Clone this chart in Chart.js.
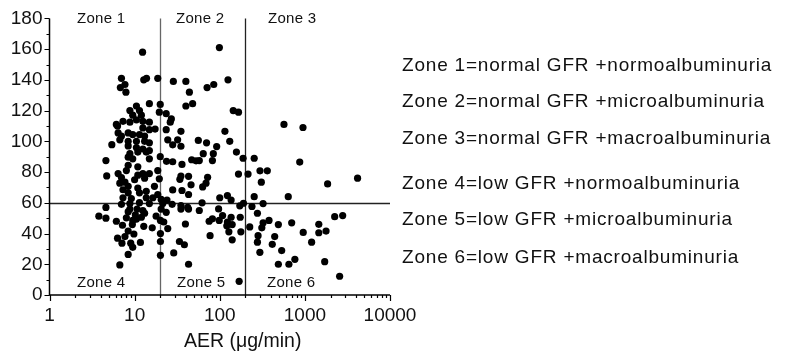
<!DOCTYPE html>
<html>
<head>
<meta charset="utf-8">
<script src="https://cdn.jsdelivr.net/npm/chart.js@4"></script>
<style>
body { margin: 0; background: #fff; }
#wrap { position: relative; width: 788px; height: 358px; font-family: "Liberation Sans", Arial, sans-serif; color: #111; }
#wrap div { position: absolute; white-space: nowrap; line-height: 1; }
.zone { font-size: 15px; letter-spacing: 0.3px; }
.key { left: 402px; font-size: 19px; letter-spacing: 0.8px; }
#xtitle { font-size: 19.5px; }
</style>
</head>
<body>
<div id="wrap">
  <canvas id="myChart" width="788" height="358"></canvas>
  <div class="zone" style="left:77px;top:10px">Zone 1</div>
  <div class="zone" style="left:176px;top:10px">Zone 2</div>
  <div class="zone" style="left:268px;top:10px">Zone 3</div>
  <div class="zone" style="left:77px;top:274px">Zone 4</div>
  <div class="zone" style="left:177px;top:274px">Zone 5</div>
  <div class="zone" style="left:267px;top:274px">Zone 6</div>
  <div id="xtitle" style="left:184px;top:331px">AER (μg/min)</div>
  <div class="key" style="top:55px">Zone 1=normal GFR +normoalbuminuria</div>
  <div class="key" style="top:91px">Zone 2=normal GFR +microalbuminuria</div>
  <div class="key" style="top:128px">Zone 3=normal GFR +macroalbuminuria</div>
  <div class="key" style="top:173px">Zone 4=low GFR +normoalbuminuria</div>
  <div class="key" style="top:209px">Zone 5=low GFR +microalbuminuria</div>
  <div class="key" style="top:247px">Zone 6=low GFR +macroalbuminuria</div>
</div>
<script>
// each point is [AER (ug/min), GFR], grouped by zone
var zone1 = [[12.4,158],[7.0,141],[7.7,137],[6.8,135],[7.9,132],[12.8,140],[13.8,141],[18.7,141],
  [10.5,123],[14.9,124.5],[8.8,120],[9.5,117],[11.4,120],[12,117],[19.5,119],[7.3,113],[6.1,111],
  [8.8,112.5],[10.5,114],[12.5,113],[14.9,112.5],[6.3,110],[17.4,108],[14.9,107.6],[12.5,108.7],
  [6.4,105.5],[7.0,103.4],[8.4,105.5],[9.5,104.4],[11.4,104.4],[13.1,103.4],[6.7,101],[8.4,100],
  [10.5,100],[13.1,100],[14.9,99],[5.4,97.8],[8.4,97],[10.5,96],[12.5,95],[14.9,94],[8.8,92],
  [10.9,93],[13.7,93],[8.4,89.7],[9.5,88.6],[14.9,88.6],[4.6,87.5],[8.4,84.4],[10.9,83.4],[18.7,81],
  [8.0,81],[4.7,77.5],[6.4,79],[7.0,76.4],[10.9,78],[12.5,79],[14.9,79],[13.1,76],[19.5,75.6],
  [7.7,73.4],[10,75],[6.7,72.8],[17.1,70.7],[10.9,69.6],[8.4,70.7],[7.3,68.5],[13.7,67.5],[8.4,66.5],
  [11.4,66.5],[18.7,65.4],[7.3,63.3],[9.15,62.8],[13.7,63.3],[16.4,63.3],[11.4,60.1]];
var zone2 = [[28.5,139],[40,139],[44,132],[71,135],[85,137],[125,140],[99,161],[40,123],[48,124.5],
  [144,120],[166,119],[20,124],[23.5,118],[27,114.6],[23.5,107.6],[26.2,112.5],[35,106.5],[32,101],
  [28,97.7],[35,96.8],[24.5,101],[56,100.6],[46.8,88],[52.7,87.3],[36,85],[35,77.4],[43,77.2],
  [34,75.3],[46,71.7],[36,68],[43,65.4],[24,61.8],[20,90],[23.7,87],[28,86.7],[28,68.4],[20.5,62.2],
  [115,106.5],[70,99],[131,100],[92,96.6],[157,93],[64,92],[84,92],[188,89],[82,87.5],[57.5,87.5],
  [166,78.7],[72,76.6],[69,72.8],[63,70.3],[100,63.3],[123,64.7],[136,61.8],[62,60]];
var zone3 = [[568,111],[950,109],[254,89],[870,86.5],[215,78.7],[297,80.8],[362,80.8],[308,73.4],
  [1850,72.3],[4160,76],[254,64],[638,64]];
var zone4 = [[7.0,59],[8.8,59.5],[14.9,59.5],[4.6,57],[3.8,51.3],[4.6,50],[6.1,48],[7.2,45.4],
  [8.0,50.2],[8.4,54.2],[9.4,45.8],[8.4,41.6],[6.3,37],[7.7,38],[9.8,39.7],[7.1,33.7],[9.0,33.7],
  [11.7,34.2],[9.5,31],[8.4,26.4],[6.7,19.6],[12.8,44.7],[16.1,43.7],[17.9,51.3],[10.2,52.1],
  [10.5,49.4],[9.5,48.5],[10.7,55.9],[12.5,54.9],[13.1,53.2],[8.8,55.9],[12,50.6]];
var zone5 = [[21.4,59.5],[27.6,59],[35,58.2],[42,57],[57.5,55],[97,56],[172,58],[190,59.7],
  [20.5,55.9],[23.5,53.8],[20.1,48.5],[22,47.5],[20.1,40],[20.1,34.8],[20.1,25.8],[28.8,27.4],
  [24.5,43.2],[33.6,34.8],[38.4,32.7],[35,55.9],[43,55.9],[39.5,46.2],[43,20],[75,48],[82,49.6],
  [108,51.7],[98.6,48.5],[136,50.6],[123,47.5],[140,45.8],[174,50.6],[128,41.1],[121,45],[77,38.6],
  [140,35.9],[177,41.1],[169,8.9]];
var zone6 = [[239,57.6],[323,59.5],[277,53.2],[225,44.3],[312,43.7],[323,47],[379,48.5],[488,45.8],
  [700,47],[282,38.6],[442,38],[277,34.4],[414,33],[296,27.8],[534,28.9],[488,20],[649,20],[763,23.2],
  [956,40.7],[1200,34.4],[1457,46],[1457,40.5],[1773,41.6],[2240,51],[2780,51.7],[1710,21.7],[2560,12.2]];

var xDecades = [1, 10, 100, 1000, 10000]; //labelled x ticks
var aerCuts = [20, 200]; //normo / micro / macro albuminuria
var gfrCut = 60; //low GFR below this

var font = '"Liberation Sans", Arial, sans-serif';

//draws the axes, tick marks and the zone boundary lines under the dots
var axesPlugin = {
    id: 'axes',
    beforeDatasetsDraw: function(chart) {
        var ctx = chart.ctx;
        var xs = chart.scales.x;
        var ys = chart.scales.y;
        var a = chart.chartArea;
        ctx.save();

        ctx.lineWidth = 1.3;
        aerCuts.forEach(function(v, i) {
            var px = Math.round(xs.getPixelForValue(v)) + 0.5;
            ctx.strokeStyle = i == 0 ? '#666' : '#222';
            ctx.beginPath();
            ctx.moveTo(px, a.top);
            ctx.lineTo(px, a.bottom);
            ctx.stroke();
        });
        var py = Math.round(ys.getPixelForValue(gfrCut)) + 0.5;
        ctx.strokeStyle = '#222';
        ctx.beginPath();
        ctx.moveTo(a.left, py);
        ctx.lineTo(a.right, py);
        ctx.stroke();

        //axis lines
        ctx.strokeStyle = '#000';
        ctx.lineWidth = 1.5;
        ctx.beginPath();
        ctx.moveTo(a.left, a.top);
        ctx.lineTo(a.left, a.bottom);
        ctx.lineTo(a.right, a.bottom);
        ctx.stroke();

        ctx.lineWidth = 1.2;
        ctx.beginPath();
        for (var v = 0; v <= 180; v += 10) { //y ticks, long on labelled values
            var y = Math.round(ys.getPixelForValue(v)) + 0.5;
            ctx.moveTo(a.left, y);
            ctx.lineTo(a.left - (v % 20 == 0 ? 5 : 3), y);
        }
        for (var d = 1; d <= 10000; d *= 10) { //x ticks, 1..9 in each decade
            for (var m = 1; m <= 9; m++) {
                if (d * m > 10000) break;
                var x = Math.round(xs.getPixelForValue(d * m)) + 0.5;
                ctx.moveTo(x, a.bottom);
                ctx.lineTo(x, a.bottom + (m == 1 ? 6 : 3));
            }
        }
        ctx.stroke();
        ctx.restore();
    }
};

function makeDataSets() {
    return [zone1, zone2, zone3, zone4, zone5, zone6].map(function(zone, i) {
        return {
            label: 'Zone ' + (i + 1),
            data: zone.map(function(p) { return {x: p[0], y: p[1]}; }),
            backgroundColor: '#000',
            borderWidth: 0,
            pointRadius: 3.6,
            pointHoverRadius: 3.6
        };
    });
}

var ctx = document.getElementById('myChart').getContext('2d');
var myChart = new Chart(ctx, {
    type: 'scatter',
    data: { datasets: makeDataSets() },
    options: {
        responsive: false,
        animation: false,
        layout: { padding: { left: 0, top: 11, right: 398, bottom: 0 } },
        plugins: { legend: { display: false }, tooltip: { enabled: false } },
        scales: {
            x: {
                type: 'logarithmic',
                min: 1,
                max: 10000,
                grid: { display: false, drawTicks: false },
                border: { display: false },
                ticks: {
                    autoSkip: false,
                    maxRotation: 0,
                    minRotation: 0,
                    padding: 9,
                    color: '#111',
                    font: { family: font, size: 19 },
                    callback: function(value) {
                        for (var i = 0; i < xDecades.length; i++) {
                            if (Math.abs(value - xDecades[i]) < 1e-6 * xDecades[i]) return String(xDecades[i]);
                        }
                        return '';
                    }
                },
                afterFit: function(scale) { scale.height = 63; }
            },
            y: {
                min: 0,
                max: 180,
                grid: { display: false, drawTicks: false },
                border: { display: false },
                ticks: {
                    stepSize: 20,
                    padding: 7,
                    color: '#111',
                    font: { family: font, size: 19 }
                },
                afterFit: function(scale) { scale.width = 49.5; }
            }
        }
    },
    plugins: [axesPlugin]
});
</script>
</body>
</html>
